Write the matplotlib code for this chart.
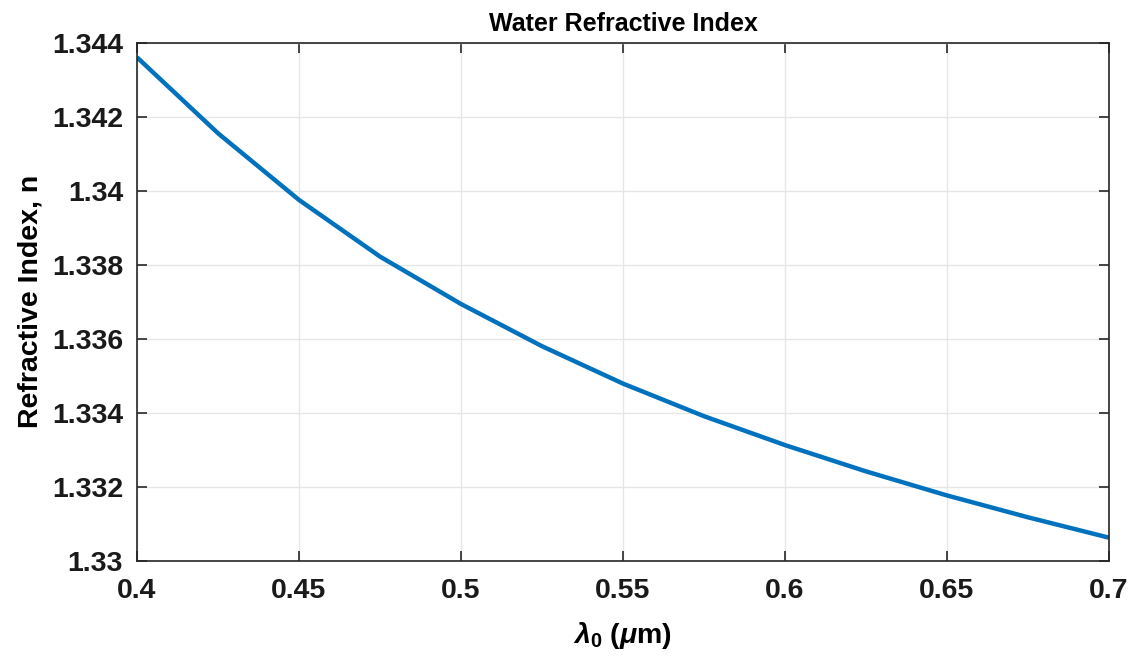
import matplotlib
matplotlib.use("Agg")
from matplotlib import pyplot as plt

# wavelength in um, refractive index
wavelength = [0.400, 0.425, 0.450, 0.475, 0.500, 0.525, 0.550,
              0.575, 0.600, 0.625, 0.650, 0.675, 0.700]
n_water = [1.34360, 1.34155, 1.33975, 1.33822, 1.33694, 1.33580, 1.33479,
           1.33391, 1.33313, 1.33242, 1.33177, 1.33118, 1.33063]

x_ticks = [0.4, 0.45, 0.5, 0.55, 0.6, 0.65, 0.7]
x_ticklabels = ["0.4", "0.45", "0.5", "0.55", "0.6", "0.65", "0.7"]
y_ticks = [1.33, 1.332, 1.334, 1.336, 1.338, 1.34, 1.342, 1.344]
y_ticklabels = ["1.33", "1.332", "1.334", "1.336", "1.338", "1.34", "1.342", "1.344"]

plt.rcParams['font.family'] = ['Liberation Sans', 'DejaVu Sans']
plt.rcParams['font.weight'] = 'bold'
plt.rcParams['mathtext.fontset'] = 'custom'
plt.rcParams['mathtext.rm'] = 'Liberation Sans:bold'
plt.rcParams['mathtext.it'] = 'Liberation Sans:bold:italic'

fig = plt.figure(figsize=(11.33, 6.6), dpi=100)
ax = fig.add_axes([0.1209, 0.15, 0.8579, 0.7856])

ax.plot(wavelength, n_water, color='#0072BD', lw=3.2, solid_capstyle='butt',
        solid_joinstyle='round')

ax.set_xlim(0.4, 0.7)
ax.set_ylim(1.33, 1.344)
ax.set_xticks(x_ticks)
ax.set_xticklabels(x_ticklabels)
ax.set_yticks(y_ticks)
ax.set_yticklabels(y_ticklabels)

ax.grid(True, color='#E6E6E6', lw=1.0)
ax.set_axisbelow(True)
ax.tick_params(direction='in', length=7, width=1.2, colors='#262626',
               labelsize=20.5, top=True, right=True)
ax.tick_params(axis='y', pad=10)
ax.tick_params(axis='x', pad=12)
for s in ax.spines.values():
    s.set_color('#262626')
    s.set_linewidth(1.2)
for lbl in ax.get_xticklabels() + ax.get_yticklabels():
    lbl.set_fontweight('bold')
    lbl.set_color('#1a1a1a')

ax.set_title("Water Refractive Index", fontsize=18, fontweight='bold', pad=8)
ax.set_ylabel("Refractive Index, n", fontsize=20.5, fontweight='bold', labelpad=6)
ax.set_xlabel(r"$\lambda_0$ ($\mu$m)", fontsize=20.5, fontweight='bold', labelpad=12)

fig.savefig("out.png", dpi=100)
